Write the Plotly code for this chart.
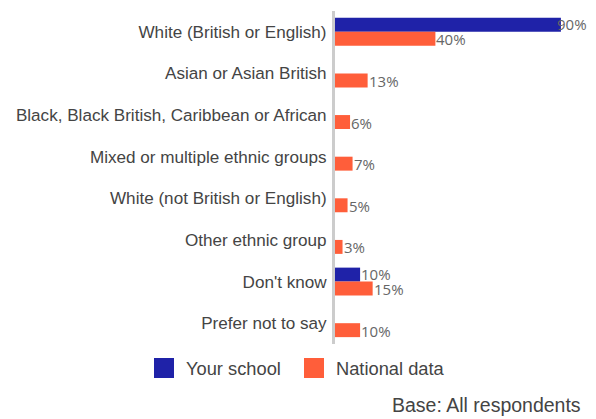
import plotly.graph_objects as go

categories = [
    "White (British or English)",
    "Asian or Asian British",
    "Black, Black British, Caribbean or African",
    "Mixed or multiple ethnic groups",
    "White (not British or English)",
    "Other ethnic group",
    "Don't know",
    "Prefer not to say",
]
your_school = [90, None, None, None, None, None, 10, None]
national = [40, 13, 6, 7, 5, 3, 15, 10]

series_names = ["Your school", "National data"]
colors = ["#1F22A8", "#FF5E3A"]

LABEL_FONT = "Liberation Sans"
VALUE_FONT = "Open Sans"

fig = go.Figure()
for name, vals, col in zip(series_names, [your_school, national], colors):
    fig.add_trace(go.Bar(
        y=categories, x=vals, name=name, orientation="h",
        marker=dict(color=col, line=dict(width=0)),
        showlegend=False,
    ))

# value labels next to each bar end (kept inside the plot width)
annotations = []
for idx, vals in enumerate([your_school, national]):
    for cat, v in zip(categories, vals):
        if v is None:
            continue
        annotations.append(dict(
            x=min(v, 88), y=cat, xref="x", yref="y",
            text=f"{v}%", showarrow=False, xanchor="left",
            yshift=7.5 if idx == 0 else -7.5, xshift=-1,
            font=dict(family=VALUE_FONT, size=15, color="#666666"),
        ))

# manual legend
legend_items = [(154, "Your school", colors[0]), (304, "National data", colors[1])]
shapes = []
for x0, label, col in legend_items:
    shapes.append(dict(type="rect", xref="paper", yref="paper",
                       x0=(x0 - 335) / 251, x1=(x0 + 20 - 335) / 251,
                       y0=(344 - 378) / 333, y1=(344 - 358) / 333,
                       fillcolor=col, line=dict(width=0)))
    annotations.append(dict(x=(x0 + 30 - 335) / 251, y=(344 - 368) / 333,
                            xref="paper", yref="paper", text=label,
                            showarrow=False, xanchor="left", yanchor="middle",
                            font=dict(family=LABEL_FONT, size=18.3, color="#444444")))

annotations.append(dict(x=1, y=(344 - 405) / 333, xref="paper", yref="paper",
                        text="Base: All respondents", showarrow=False,
                        xanchor="right", yanchor="middle", xshift=-3,
                        font=dict(family=LABEL_FONT, size=19.5, color="#444444")))

fig.update_layout(
    width=596, height=419,
    margin=dict(l=335, r=10, t=11, b=75),
    paper_bgcolor="white", plot_bgcolor="white",
    barmode="group", bargap=0.33, bargroupgap=0,
    xaxis=dict(range=[0, 100], visible=False, fixedrange=True),
    yaxis=dict(autorange="reversed", showline=True, linecolor="#CCCCCC",
               linewidth=3, ticks="", ticklabelstandoff=2,
               tickfont=dict(family=LABEL_FONT, size=17.1, color="#444444"),
               showgrid=False),
    annotations=annotations, shapes=shapes,
    showlegend=False,
)

fig.write_html("out.html")
